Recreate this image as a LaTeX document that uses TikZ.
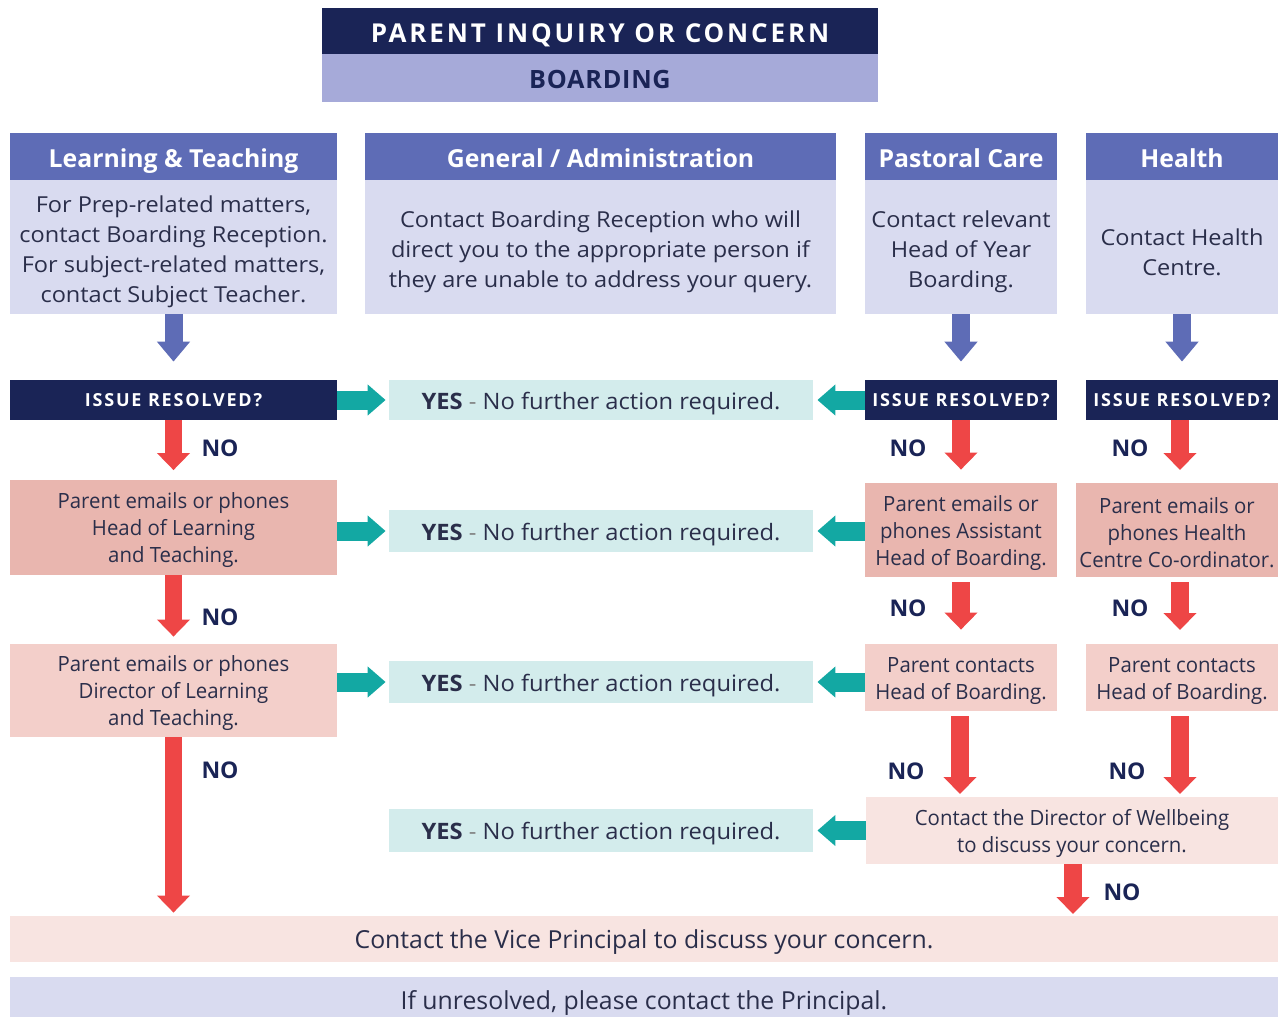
\documentclass[tikz,border=0pt]{standalone}
\usepackage{fontspec}
\setmainfont{Open Sans}
\newfontfamily\condfont{Open Sans}[FakeStretch=0.97]
\newfontfamily\widefont{Open Sans}[FakeStretch=1.07]
\newfontfamily\yesfont{Open Sans}[FakeStretch=1.05]
\newfontfamily\spacedfont{Open Sans}[LetterSpace=11]
\newfontfamily\issuefont{Open Sans}[LetterSpace=10]
\newfontfamily\tightspacedfont{Open Sans}[LetterSpace=3]
\usetikzlibrary{arrows.meta}

\definecolor{navy}{HTML}{1A2456}
\definecolor{titlelight}{HTML}{A6AAD9}
\definecolor{hdrblue}{HTML}{5E6CB6}
\definecolor{bodylav}{HTML}{D9DBF0}
\definecolor{tealarr}{HTML}{13A8A3}
\definecolor{yesbg}{HTML}{D3ECEC}
\definecolor{pinkA}{HTML}{E9B6AF}
\definecolor{pinkB}{HTML}{F3CFCA}
\definecolor{pinkC}{HTML}{F8E4E1}
\definecolor{redarr}{HTML}{EE4646}
\definecolor{txt}{HTML}{2A2E4A}

% first-line strut, pushes multi-line text a little lower in its box
\newcommand{\bodyup}{\rule{0pt}{13.2pt}}
\newcommand{\pinkup}{\rule{0pt}{10.6pt}}

\tikzset{
  wh/.style 2 args={minimum width=#1*0.5pt, minimum height=#2*0.5pt},
  cell/.style={inner sep=0pt, align=center, text=txt},
  oneline/.style={text height=#1, text depth=0pt},
  hdr/.style={cell, fill=hdrblue, text=white, oneline=11pt, font=\bfseries\fontsize{12.4}{14}\selectfont},
  bodytxt/.style={cell, fill=bodylav, font=\widefont\fontsize{11}{15}\selectfont},
  issue/.style={cell, fill=navy, text=white, oneline=6pt, font=\issuefont\bfseries\fontsize{9}{10}\selectfont},
  yesbox/.style={cell, fill=yesbg, oneline=9pt, font=\yesfont\fontsize{11.3}{13}\selectfont},
  pinkbox/.style={cell, font=\condfont\fontsize{10.5}{13.5}\selectfont},
  nolbl/.style={inner sep=0pt, text=navy, font=\bfseries\fontsize{11.5}{13}\selectfont},
  bluearr/.style={draw=hdrblue, line width=9pt, -{Triangle[length=10pt,width=16pt]}},
  redarrow/.style={draw=redarr, line width=8.75pt, -{Triangle[length=8.5pt,width=16pt]}},
  tealarrow/.style={draw=tealarr, line width=9.5pt, -{Triangle[length=9pt,width=15pt]}}
}

\newcommand{\yestext}{\textbf{YES} {\color{gray}-} No further action required.}

\begin{document}
\begin{tikzpicture}[x=0.5pt, y=-0.5pt]
  \useasboundingbox (0,0) rectangle (1283,1017);

  % title
  \node[cell, wh={556}{46}, fill=navy, text=white, oneline=11.5pt, font=\spacedfont\bfseries\fontsize{13}{14}\selectfont]
    (title) at (600,31) {PARENT INQUIRY OR CONCERN};
  \node[cell, wh={556}{48}, fill=titlelight, text=navy, oneline=10pt, font=\tightspacedfont\bfseries\fontsize{12.6}{14}\selectfont]
    (board) at (600,78) {BOARDING};

  % column headers and first contacts
  \node[hdr, wh={327}{47}] (hLT) at (173.5,156.5) {Learning \& Teaching};
  \node[hdr, wh={471}{47}] (hGA) at (600.5,156.5) {General / Administration};
  \node[hdr, wh={192}{47}] (hPC) at (961,156.5) {Pastoral Care};
  \node[hdr, wh={192}{47}] (hHE) at (1182,156.5) {Health};

  \node[bodytxt, wh={327}{134}] (bLT) at (173.5,247) {\bodyup For Prep-related matters,\\contact Boarding Reception.\\For subject-related matters,\\contact Subject Teacher.};
  \node[bodytxt, wh={471}{134}] (bGA) at (600.5,247) {\bodyup Contact Boarding Reception who will\\direct you to the appropriate person if\\they are unable to address your query.};
  \node[bodytxt, wh={192}{134}] (bPC) at (961,247) {\bodyup Contact relevant\\Head of Year\\Boarding.};
  \node[bodytxt, wh={192}{134}] (bHE) at (1182,247) {\bodyup Contact Health\\Centre.};

  % issue resolved
  \node[issue, wh={327}{40}] (irLT) at (173.5,400) {ISSUE RESOLVED?};
  \node[issue, wh={192}{40}] (irPC) at (961,400) {ISSUE RESOLVED?};
  \node[issue, wh={192}{40}] (irHE) at (1182,400) {ISSUE RESOLVED?};

  % yes boxes
  \node[yesbox, wh={424}{40}] (yes1) at (601,400) {\yestext};
  \node[yesbox, wh={424}{42}] (yes2) at (601,531) {\yestext};
  \node[yesbox, wh={424}{42}] (yes3) at (601,682) {\yestext};
  \node[yesbox, wh={424}{43}] (yes4) at (601,830.5) {\yestext};

  % escalation steps
  \node[pinkbox, fill=pinkA, wh={327}{95}] (pLT1) at (173.5,527) {\pinkup Parent emails or phones\\Head of Learning\\and Teaching.};
  \node[pinkbox, fill=pinkA, wh={192}{94}] (pPC1) at (961,530) {\pinkup Parent emails or\\phones Assistant\\Head of Boarding.};
  \node[pinkbox, fill=pinkA, wh={202}{94}] (pHE1) at (1177,530) {\pinkup Parent emails or\\phones Health\\Centre Co-ordinator.};
  \node[pinkbox, fill=pinkB, wh={327}{93}] (pLT2) at (173.5,690.5) {\pinkup Parent emails or phones\\Director of Learning\\and Teaching.};
  \node[pinkbox, fill=pinkB, wh={192}{67}] (pPC2) at (961,677.5) {\pinkup Parent contacts\\Head of Boarding.};
  \node[pinkbox, fill=pinkB, wh={192}{67}] (pHE2) at (1182,677.5) {\pinkup Parent contacts\\Head of Boarding.};
  \node[pinkbox, fill=pinkC, wh={412}{67}] (well) at (1072,830.5) {\pinkup Contact the Director of Wellbeing\\to discuss your concern.};

  \node[cell, fill=pinkC, wh={1268}{46}, oneline=9pt, font=\fontsize{12.4}{14}\selectfont] (vice) at (644,939) {Contact the Vice Principal to discuss your concern.};
  \node[cell, fill=bodylav, wh={1268}{40}, oneline=12pt, font=\fontsize{12.4}{14}\selectfont] (princ) at (644,997) {If unresolved, please contact the Principal.};

  % down arrows
  \draw[bluearr, shorten >=9pt] (bLT.south) -- (irLT.north);
  \draw[bluearr, shorten >=9pt] (bPC.south) -- (irPC.north);
  \draw[bluearr, shorten >=9pt] (bHE.south) -- (irHE.north);

  \draw[redarrow, shorten >=4.5pt] (irLT.south) -- (pLT1.north);
  \draw[redarrow, shorten >=3.5pt] (pLT1.south) -- (pLT2.north);
  \draw[redarrow, shorten >=1.5pt] (pLT2.south) -- (pLT2.south |- vice.north);
  \draw[redarrow, shorten >=6.5pt] (irPC.south) -- (irPC.south |- pPC1.north);
  \draw[redarrow, shorten >=6.5pt] (irHE.south -| 1180,0) -- (1180,483);
  \draw[redarrow, shorten <=2.5pt, shorten >=7pt] (pPC1.south) -- (pPC1.south |- pPC2.north);
  \draw[redarrow, shorten <=2.5pt, shorten >=7pt] (pHE1.south -| 1180,0) -- (1180,644);
  \draw[redarrow, shorten <=2.5pt, shorten >=1.5pt] (pPC2.south -| 960,0) -- (960,797);
  \draw[redarrow, shorten <=2.5pt, shorten >=1.5pt] (pHE2.south -| 1180,0) -- (1180,797);
  \draw[redarrow, shorten >=1pt] (well.south -| 1073,0) -- (1073,916);

  % yes arrows
  \draw[tealarrow, shorten >=1.5pt] (irLT.east) -- (yes1.west);
  \draw[tealarrow, shorten >=1.5pt] (yes2.west -| pLT1.east) -- (yes2.west);
  \draw[tealarrow, shorten >=1.5pt] (yes3.west -| pLT2.east) -- (yes3.west);
  \draw[tealarrow, shorten >=2pt] (irPC.west) -- (yes1.east);
  \draw[tealarrow, shorten >=2pt] (yes2.east -| pPC1.west) -- (yes2.east);
  \draw[tealarrow, shorten >=2pt] (yes3.east -| pPC2.west) -- (yes3.east);
  \draw[tealarrow, shorten >=2pt] (yes4.east -| well.west) -- (yes4.east);

  % NO labels
  \node[nolbl] (noLT1) at (220,448) {NO};
  \node[nolbl] (noLT2) at (220,617) {NO};
  \node[nolbl] (noLT3) at (220,770) {NO};
  \node[nolbl] (noPC1) at (908,448) {NO};
  \node[nolbl] (noPC2) at (908,608) {NO};
  \node[nolbl] (noPC3) at (906,771) {NO};
  \node[nolbl] (noHE1) at (1130,448) {NO};
  \node[nolbl] (noHE2) at (1130,608) {NO};
  \node[nolbl] (noHE3) at (1127,771) {NO};
  \node[nolbl] (noWB) at (1122,892) {NO};
\end{tikzpicture}
\end{document}
